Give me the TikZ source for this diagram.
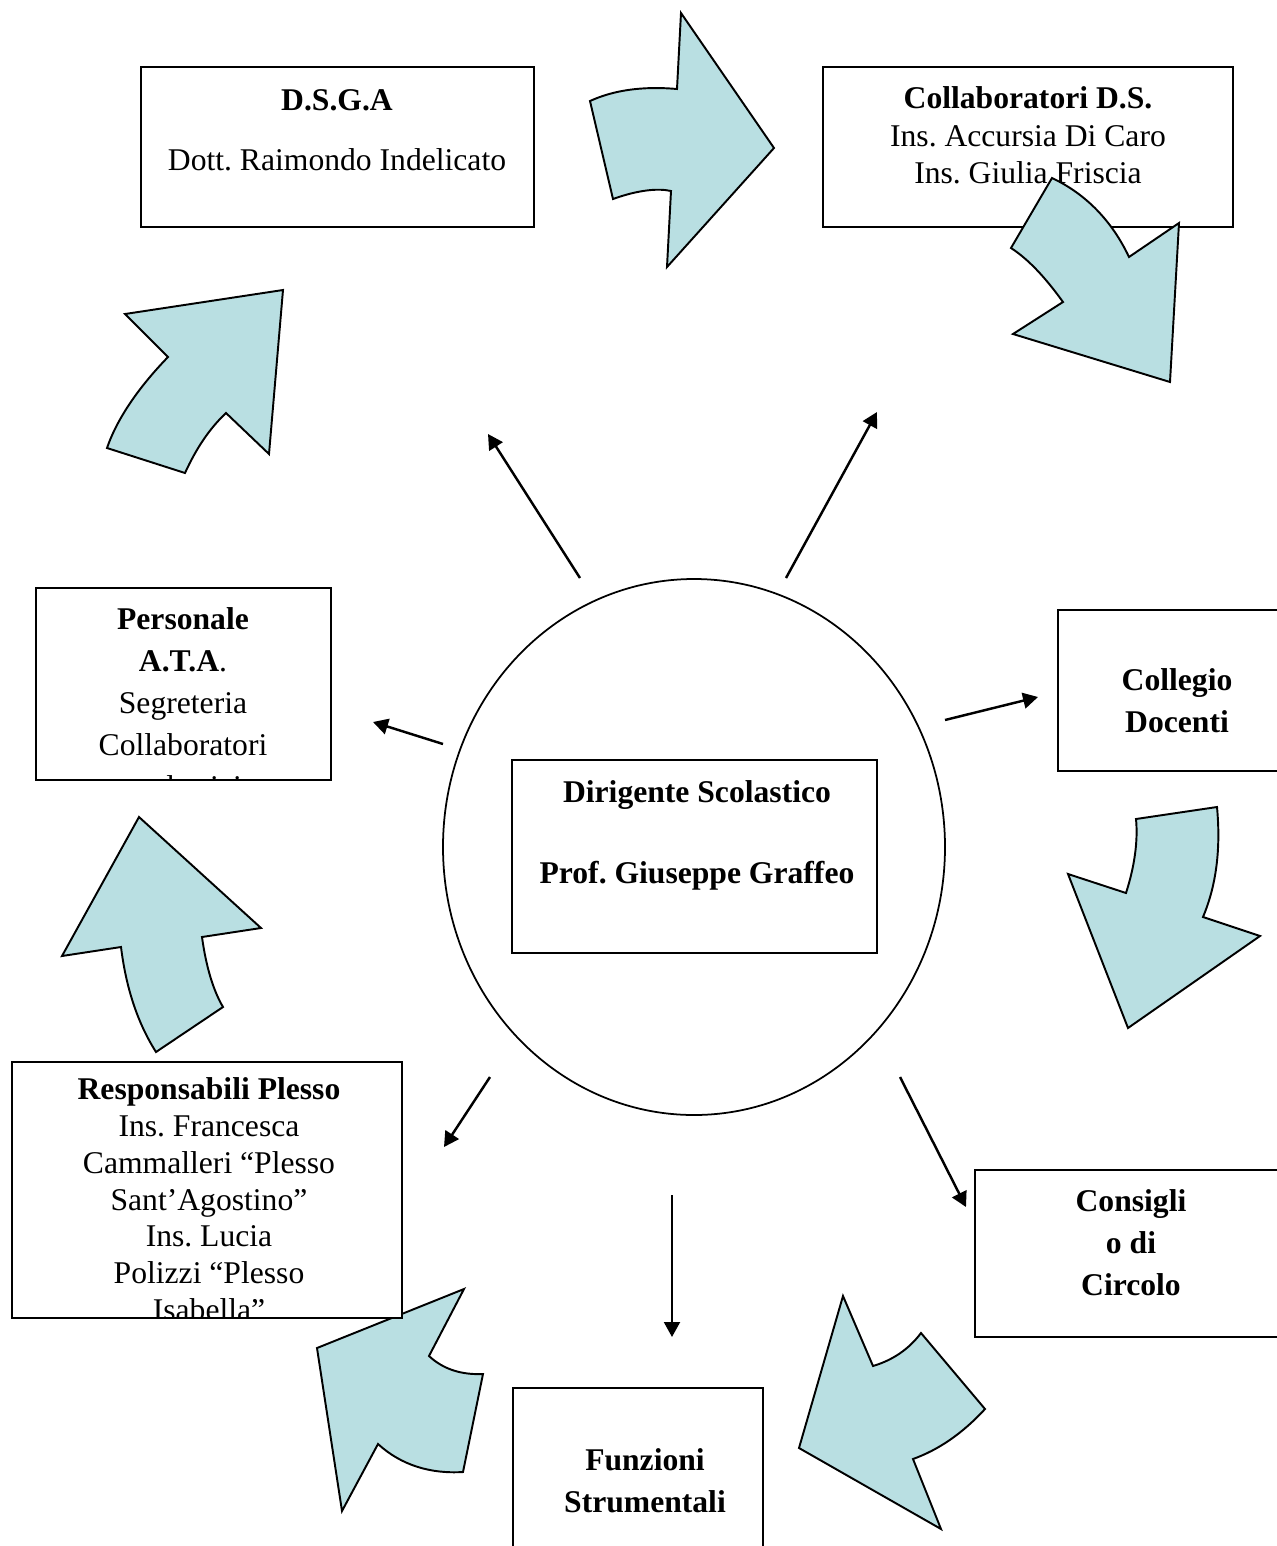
\documentclass[tikz,border=0pt]{standalone}
\usepackage{fontspec}
\setmainfont{Liberation Serif}
\usetikzlibrary{arrows.meta}
\definecolor{arrowblue}{RGB}{185,223,226}
\frenchspacing

\begin{document}
\begin{tikzpicture}[x=0.02cm,y=-0.02cm,
				box/.style={draw,line width=1.1pt},
				blockarrow/.style={draw,line width=1.1pt,fill=arrowblue},
				label/.style={align=center,inner sep=0pt,anchor=north,font=\fontsize{18}{24}\selectfont},
				link/.style={->,line width=1.4pt},
				>={Triangle[length=8.5pt,width=9pt]}]
				
				\useasboundingbox (0,0) rectangle (1277,1546);
				
				% Central circle
				\coordinate (centro) at (694,847);
				\draw[line width=1pt] (centro) ellipse [x radius=251, y radius=268];
				\draw[box] (512,760) rectangle (877,953);
				\node (ds) [label] at (697,780) {\textbf{Dirigente Scolastico}\\[22pt]\textbf{Prof. Giuseppe Graffeo}};
				
				% Boxes
				\draw[box] (141,67) rectangle (534,227);
				\node (dsga) [label] at (337,89) {\textbf{D.S.G.A}\\[10pt]Dott. Raimondo Indelicato};
				
				\draw[box] (823,67) rectangle (1233,227);
				\node (collab) [label,font=\fontsize{18}{21.5}\selectfont] at (1028,86) {\textbf{Collaboratori D.S.}\\Ins. Accursia Di Caro\\Ins. Giulia Friscia};
				
				\draw[box] (1058,610) rectangle (1290,771);
				\node (collegio) [label] at (1177,668) {\textbf{Collegio}\\\textbf{Docenti}};
				
				\begin{scope}
					\clip (36,588) rectangle (331,780);
					\node (ata) [label] at (183,607) {\textbf{Personale}\\\textbf{A.T.A}.\\Segreteria\\Collaboratori\\scolastici};
				\end{scope}
				\draw[box] (36,588) rectangle (331,780);
				
				\draw[box] (975,1170) rectangle (1290,1337);
				\node (consiglio) [label] at (1131,1189) {\textbf{Consigli}\\\textbf{o di}\\\textbf{Circolo}};
				
				\draw[box] (513,1388) rectangle (763,1560);
				\node (funzioni) [label] at (645,1448) {\textbf{Funzioni}\\\textbf{Strumentali}};
				
				% Links from the centre
				\coordinate (s1) at (580,578);  \coordinate (e1) at (488,434);
				\coordinate (s2) at (786,578);  \coordinate (e2) at (877,412);
				\coordinate (s3) at (945,720);  \coordinate (e3) at (1038,697);
				\coordinate (s4) at (443,744);  \coordinate (e4) at (373,722);
				\coordinate (s5) at (490,1077); \coordinate (e5) at (444,1147);
				\coordinate (s6) at (900,1077); \coordinate (e6) at (966,1207);
				\coordinate (s7) at (672,1195); \coordinate (e7) at (672,1337);
				\foreach \i in {1,...,7}
					\draw[link] (s\i) -- (e\i);
				
				% Block arrows round the circle
				\draw[blockarrow] (590,101) .. controls (614,90) and (643,86) .. (677,89) -- (681,13) -- (774,148)
					-- (667,267) -- (671,191) .. controls (658,188) and (638,190) .. (613,199) -- cycle;
				\draw[blockarrow] (1052,178) .. controls (1086,194) and (1112,221) .. (1129,257) -- (1179,223) -- (1170,382)
					-- (1013,334) -- (1063,302) .. controls (1045,277) and (1028,259) .. (1011,248) -- cycle;
				\draw[blockarrow] (107,448) .. controls (117,419) and (138,388) .. (168,357) -- (125,314) -- (283,290)
					-- (269,454) -- (226,413) .. controls (209,429) and (196,449) .. (185,473) -- cycle;
				\draw[blockarrow] (1136,819) -- (1217,807) .. controls (1221,850) and (1216,886) .. (1203,917) -- (1260,936)
					-- (1128,1028) -- (1068,874) -- (1126,893) .. controls (1135,865) and (1138,840) .. cycle;
				\draw[blockarrow] (139,817) -- (261,928) -- (202,937) .. controls (206,966) and (213,990) .. (223,1007)
					-- (156,1052) .. controls (137,1022) and (126,987) .. (121,947) -- (62,956) -- cycle;
				\draw[blockarrow] (464,1289) -- (429,1356) .. controls (443,1369) and (461,1375) .. (483,1374) -- (463,1472)
					.. controls (430,1474) and (401,1465) .. (378,1444) -- (342,1511) -- (317,1348) -- cycle;
				\draw[blockarrow] (843,1296) -- (873,1366) .. controls (893,1360) and (909,1349) .. (921,1333) -- (985,1409)
					.. controls (962,1434) and (938,1450) .. (913,1459) -- (941,1529) -- (799,1448) -- cycle;
				
				% Responsabili box lies over the arrow
				\begin{scope}
					\fill[white] (12,1062) rectangle (402,1318);
					\clip (12,1062) rectangle (402,1318);
					\node (plesso) [label,font=\fontsize{18}{21}\selectfont] at (209,1077) {\textbf{Responsabili Plesso}\\Ins. Francesca\\Cammalleri “Plesso\\Sant’Agostino”\\Ins. Lucia\\Polizzi “Plesso\\Isabella”};
				\end{scope}
				\draw[box] (12,1062) rectangle (402,1318);
			\end{tikzpicture}
\end{document}
